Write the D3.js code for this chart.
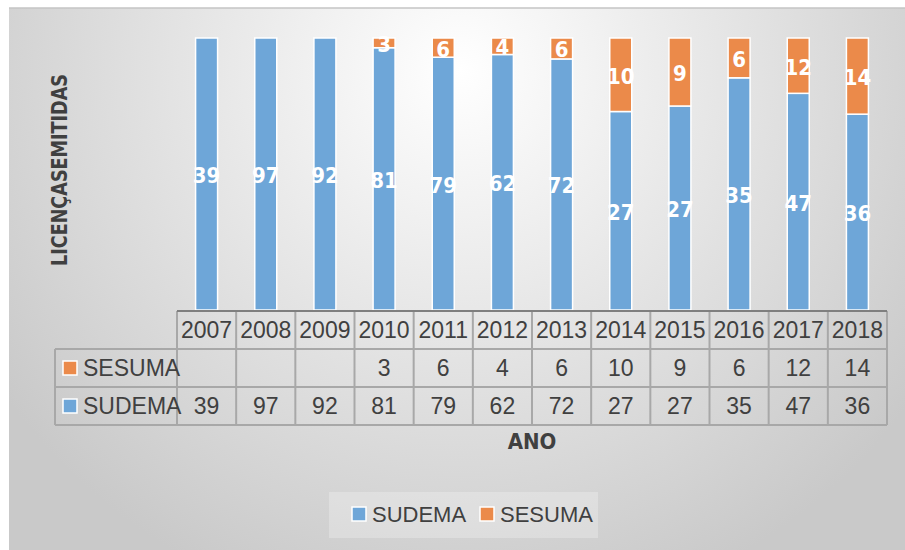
<!DOCTYPE html>
<html>
<head>
<meta charset="utf-8">
<script src="https://cdn.jsdelivr.net/npm/d3@7"></script>
<style>
  body { margin: 0; background: #fff; }
  svg { display: block; }
</style>
</head>
<body>
<div id="chart"></div>
<script>
// chart data
const years = ['2007','2008','2009','2010','2011','2012','2013','2014','2015','2016','2017','2018'];
const sudema = [39, 97, 92, 81, 79, 62, 72, 27, 27, 35, 47, 36];
const sesuma = [null, null, null, 3, 6, 4, 6, 10, 9, 6, 12, 14];
const seriesNames = ['SUDEMA', 'SESUMA'];
const colors = {SUDEMA: '#6ea6d8', SESUMA: '#eb8a4a'};

const width = 905, height = 550;
const plot = {left: 177, right: 887, top: 38, bottom: 310};
const rowH = 38;

const svg = d3.select('#chart').append('svg')
    .attr('width', width).attr('height', height);

// background gradient
const defs = svg.append('defs');
const grad = defs.append('radialGradient')
    .attr('id', 'bg').attr('gradientUnits', 'userSpaceOnUse')
    .attr('cx', 460).attr('cy', 70).attr('r', 560);
grad.append('stop').attr('offset', '0%').attr('stop-color', '#ffffff');
grad.append('stop').attr('offset', '100%').attr('stop-color', '#c9c9c9');

svg.append('rect').attr('x', 9).attr('y', 8)
    .attr('width', width - 9).attr('height', height - 8)
    .attr('fill', 'url(#bg)');
svg.append('line').attr('x1', 9).attr('x2', width).attr('y1', 8).attr('y2', 8)
    .attr('stroke', '#c4c4c4').attr('stroke-width', 1.5);

// build stacked (100%) data
const table = years.map((y, i) => {
    const a = sudema[i], b = sesuma[i] || 0;
    return {year: y, SUDEMA: a / (a + b), SESUMA: b / (a + b), raw: {SUDEMA: sudema[i], SESUMA: sesuma[i]}};
});
const stacked = d3.stack().keys(seriesNames)(table);

const x = d3.scaleBand().domain(years).range([plot.left, plot.right]);
const y = d3.scaleLinear().domain([0, 1]).range([plot.bottom, plot.top]);
const barW = 22;

const layers = svg.append('g').classed('bars', true)
    .selectAll('g').data(stacked).join('g')
    .attr('fill', d => colors[d.key]);

layers.selectAll('rect')
    .data(d => d.map(p => Object.assign(p, {key: d.key})))
    .join('rect')
    .filter(d => d[1] - d[0] > 0)
    .attr('x', d => x(d.data.year) + x.bandwidth() / 2 - barW / 2)
    .attr('width', barW)
    .attr('y', d => y(d[1]))
    .attr('height', d => y(d[0]) - y(d[1]))
    .attr('stroke', '#fff').attr('stroke-width', 1.5);

// bar labels
svg.append('g').classed('labels', true)
    .selectAll('g').data(stacked).join('g')
    .selectAll('text')
    .data(d => d.filter(p => p.data.raw[d.key] != null).map(p => ({p: p, key: d.key})))
    .join('text')
    .attr('x', d => x(d.p.data.year) + x.bandwidth() / 2)
    .attr('y', d => (y(d.p[0]) + y(d.p[1])) / 2 + 1)
    .attr('dy', '0.36em')
    .attr('text-anchor', 'middle')
    .attr('fill', '#fff')
    .style('font-family', '"DejaVu Sans Condensed", "DejaVu Sans", sans-serif')
    .style('font-weight', 'bold')
    .style('font-size', '22px')
    .text(d => d.p.data.raw[d.key]);

// data table
const grid = svg.append('g').classed('table', true);
const tableTop = plot.bottom + 1;
const keyLeft = 55;
const gridColor = '#a8a8a8';

// horizontal lines
[1, 2, 3].forEach(r => {
    grid.append('line')
        .attr('x1', keyLeft).attr('x2', plot.right)
        .attr('y1', tableTop + r * rowH).attr('y2', tableTop + r * rowH)
        .attr('stroke', gridColor).attr('stroke-width', 2);
});
// vertical lines
years.concat(['end']).forEach((yr, i) => {
    const xx = plot.left + i * x.bandwidth();
    grid.append('line')
        .attr('x1', xx).attr('x2', xx)
        .attr('y1', tableTop).attr('y2', tableTop + 3 * rowH)
        .attr('stroke', gridColor).attr('stroke-width', 2);
});
grid.append('line')
    .attr('x1', keyLeft).attr('x2', keyLeft)
    .attr('y1', tableTop + rowH).attr('y2', tableTop + 3 * rowH)
    .attr('stroke', gridColor).attr('stroke-width', 2);
// axis line
grid.append('line')
    .attr('x1', plot.left).attr('x2', plot.right)
    .attr('y1', tableTop).attr('y2', tableTop)
    .attr('stroke', '#7f7f7f').attr('stroke-width', 2);

const tableFont = '"Liberation Sans", Arial, sans-serif';

grid.selectAll('text.year').data(years).join('text')
    .attr('class', 'year')
    .attr('x', d => x(d) + x.bandwidth() / 2)
    .attr('y', tableTop + rowH / 2).attr('dy', '0.36em')
    .attr('text-anchor', 'middle')
    .attr('fill', '#404040')
    .style('font-family', tableFont).style('font-size', '23px')
    .text(d => d);

const rows = [{key: 'SESUMA', vals: sesuma}, {key: 'SUDEMA', vals: sudema}];
rows.forEach((row, r) => {
    const cy = tableTop + (r + 1) * rowH + rowH / 2;
    grid.append('rect')
        .attr('x', 63).attr('y', cy - 7).attr('width', 14).attr('height', 14)
        .attr('fill', colors[row.key]).attr('stroke', '#fff').attr('stroke-width', 1.5);
    grid.append('text')
        .attr('x', 83).attr('y', cy).attr('dy', '0.36em')
        .attr('fill', '#404040')
        .style('font-family', tableFont).style('font-size', '23px')
        .text(row.key);
    grid.selectAll('text.v' + r).data(row.vals).join('text')
        .attr('class', 'v' + r)
        .attr('x', (d, i) => x(years[i]) + x.bandwidth() / 2)
        .attr('y', cy).attr('dy', '0.36em')
        .attr('text-anchor', 'middle')
        .attr('fill', '#404040')
        .style('font-family', tableFont).style('font-size', '23px')
        .text(d => d == null ? '' : d);
});

// axis titles
svg.append('text')
    .attr('transform', 'translate(67,170) rotate(-90)')
    .attr('text-anchor', 'middle')
    .attr('fill', '#404040')
    .attr('textLength', 192).attr('lengthAdjust', 'spacingAndGlyphs')
    .style('font-family', '"DejaVu Sans Condensed", "DejaVu Sans", sans-serif')
    .style('font-weight', 'bold').style('font-size', '22px')
    .text('LICENÇASEMITIDAS');

svg.append('text')
    .attr('x', 532).attr('y', 449)
    .attr('text-anchor', 'middle')
    .attr('fill', '#404040')
    .style('font-family', '"DejaVu Sans Condensed", "DejaVu Sans", sans-serif')
    .style('font-weight', 'bold').style('font-size', '22px')
    .text('ANO');

// legend
const legend = svg.append('g').classed('legend', true);
legend.append('rect')
    .attr('x', 329).attr('y', 492).attr('width', 269).attr('height', 46)
    .attr('fill', '#ffffff').attr('fill-opacity', 0.25);
const legendX = {SUDEMA: 352, SESUMA: 480};
seriesNames.forEach(k => {
    legend.append('rect')
        .attr('x', legendX[k]).attr('y', 507).attr('width', 14).attr('height', 14)
        .attr('fill', colors[k]).attr('stroke', '#fff').attr('stroke-width', 1.5);
    legend.append('text')
        .attr('x', legendX[k] + 20).attr('y', 514).attr('dy', '0.36em')
        .attr('fill', '#404040')
        .style('font-family', tableFont).style('font-size', '22px')
        .text(k);
});
</script>
</body>
</html>
